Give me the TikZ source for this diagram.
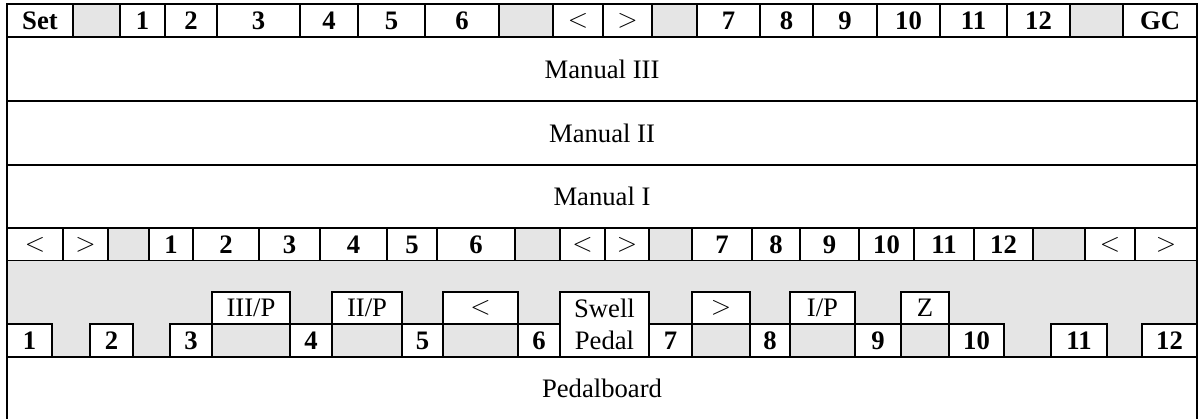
\documentclass[12pt,tikz,border=0pt]{standalone}
\usepackage{fontspec}
\setmainfont{Liberation Serif}
\definecolor{blankgray}{RGB}{229,229,229}

\begin{document}
\begin{tikzpicture}[x=0.45pt, y=-0.45pt, line width=0.9pt,
    key/.style={draw, fill=white},
    blank/.style={draw, fill=blankgray},
    num/.style={font=\bfseries},
    txt/.style={font=\fontsize{12}{14.4}\selectfont}]
  \useasboundingbox (0,0) rectangle (1199,419);

  % Top piston row
  \foreach \a/\b in {73/120, 499/553, 652/697, 1070/1123}
    \draw[blank] (\a,4) rectangle (\b,37);
  \foreach \a/\b/\t in {7/73/Set, 120/165/1, 165/217/2, 217/300/3, 300/358/4, 358/425/5,
      425/499/6, 697/760/7, 760/813/8, 813/877/9, 877/940/10, 940/1007/11,
      1007/1070/12, 1123/1197/GC} {
    \draw[key] (\a,4) rectangle (\b,37);
    \node[num] (top-\a) at ({(\a+\b)/2},20.5) {\t};
  }
  \foreach \a/\b/\t in {553/603/$<$, 603/652/$>$} {
    \draw[key] (\a,4) rectangle (\b,37);
    \node[txt] (top-\a) at ({(\a+\b)/2},20.5) {\t};
  }

  % Manuals
  \foreach \ya/\yb/\t in {37/101/Manual III, 101/165/Manual II, 165/228/Manual I} {
    \draw[key] (7,\ya) rectangle (1197,\yb);
    \node[txt] (man-\ya) at (602,{(\ya+\yb)/2}) {\t};
  }

  % Lower piston row
  \foreach \a/\b in {108/149, 515/560, 649/692, 1033/1085}
    \draw[blank] (\a,228) rectangle (\b,261);
  \foreach \a/\b/\t in {149/193/1, 193/259/2, 259/320/3, 320/387/4, 387/437/5,
      437/515/6, 692/752/7, 752/800/8, 800/859/9, 859/914/10, 914/974/11,
      974/1033/12} {
    \draw[key] (\a,228) rectangle (\b,261);
    \node[num] (low-\a) at ({(\a+\b)/2},244.5) {\t};
  }
  \foreach \a/\b/\t in {7/63/$<$, 63/108/$>$, 560/605/$<$, 605/649/$>$,
      1085/1135/$<$, 1135/1197/$>$} {
    \draw[key] (\a,228) rectangle (\b,261);
    \node[txt] (low-\a) at ({(\a+\b)/2},244.5) {\t};
  }

  % Toe pistons
  \fill[blankgray] (7,261) rectangle (1197,357);
  \draw (7,261) -- (7,357) (1197,261) -- (1197,357);
  \foreach \a/\b/\t in {212/290/{III/P}, 332/402/{II/P}, 443/518/$<$, 692/750/$>$,
      790/855/{I/P}, 901/949/Z} {
    \draw[key] (\a,292) rectangle (\b,324);
    \draw[blank] (\a,324) rectangle (\b,357);
    \node[txt] (toe-\a) at ({(\a+\b)/2},308) {\t};
  }
  \foreach \a/\b/\t in {7/52/1, 90/133/2, 170/212/3, 290/332/4, 402/443/5,
      518/560/6, 649/692/7, 750/790/8, 855/901/9, 949/1004/10, 1051/1107/11,
      1142/1197/12} {
    \draw[key] (\a,324) rectangle (\b,357);
    \node[num] (ped-\a) at ({(\a+\b)/2},340.5) {\t};
  }
  \draw[key] (560,292) rectangle (649,357);
  \node[txt, align=center] (swell) at (604.5,324.5) {Swell\\Pedal};

  % Pedalboard
  \draw (7,419) -- (7,357) -- (1197,357) -- (1197,419);
  \node[txt] (pedalboard) at (602,388) {Pedalboard};
\end{tikzpicture}
\end{document}
